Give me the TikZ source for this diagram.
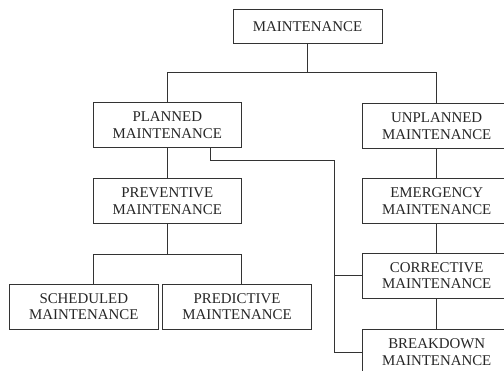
\documentclass[tikz,border=0pt]{standalone}
\usepackage{fontspec}
\setmainfont{Liberation Serif}
\begin{document}
\begin{tikzpicture}[x=1pt,y=-1pt,
  box/.style={draw=black!80,line width=0.8pt,text=black!85,align=center,
    minimum width=148,minimum height=45,inner sep=1pt,
    font=\fontsize{14.9}{16.4}\selectfont},
  link/.style={draw=black!80,line width=0.8pt}]
% page frame
\clip (0,0) rectangle (504,370);
% top node
\node[box,minimum width=149,minimum height=34.4] (maint) at (307.5,26.5) {MAINTENANCE};
% second level
\node[box] (planned) at (167.3,125) {PLANNED\\MAINTENANCE};
\node[box] (unplanned) at (436.7,126.3) {UNPLANNED\\MAINTENANCE};
% planned side
\node[box] (preventive) at (167.3,201.3) {PREVENTIVE\\MAINTENANCE};
\node[box,minimum width=149] (scheduled) at (83.8,306.5) {SCHEDULED\\MAINTENANCE};
\node[box,minimum width=149] (predictive) at (237,306.5) {PREDICTIVE\\MAINTENANCE};
% unplanned side
\node[box] (emergency) at (436.7,201.3) {EMERGENCY\\MAINTENANCE};
\node[box] (corrective) at (436.7,275.8) {CORRECTIVE\\MAINTENANCE};
\node[box] (breakdown) at (436.7,352) {BREAKDOWN\\MAINTENANCE};
% tree from the top
\draw[link] (maint.south) -- ++(0,28.6) coordinate (mbus);
\draw[link] (mbus) -| (planned.north);
\draw[link] (mbus) -| (unplanned.north);
% preventive branch
\draw[link] (planned) -- (preventive);
\draw[link] (preventive.south) -- ++(0,30.3) coordinate (pbus);
\draw[link] (pbus -| preventive.west) -- (pbus -| preventive.east);
\draw[link] (pbus -| preventive.west) -- (scheduled.north -| preventive.west);
\draw[link] (pbus -| preventive.east) -- (predictive.north -| preventive.east);
% unplanned chain
\draw[link] (unplanned) -- (emergency);
\draw[link] (emergency) -- (corrective);
\draw[link] (corrective) -- (breakdown);
% planned to corrective and breakdown
\coordinate (elbow) at (210,160);
\coordinate (trunk) at (334,160);
\draw[link] (elbow |- planned.south) -- (elbow) -- (trunk) |- (breakdown.west);
\draw[link] (trunk |- corrective.west) -- (corrective.west);
\end{tikzpicture}
\end{document}
